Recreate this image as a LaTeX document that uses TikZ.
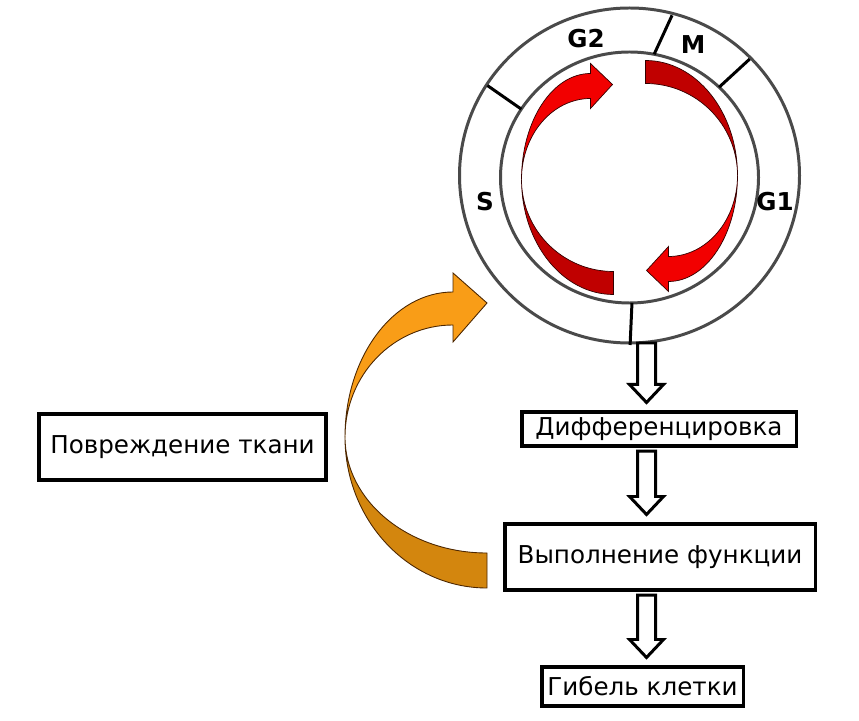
\documentclass[tikz,border=0pt]{standalone}
\usepackage{fontspec}
\setmainfont{DejaVu Sans}
\usetikzlibrary{calc}

\definecolor{ringgray}{HTML}{4A4A4A}
\definecolor{redlight}{HTML}{F20000}
\definecolor{reddark}{HTML}{C00000}
\definecolor{orangelight}{HTML}{F99D17}
\definecolor{orangedark}{HTML}{D3860E}

% hollow block arrow going down along the axis
\newcommand{\blockarrow}[2]{%
	\path (axis |- #1) ++(0,-0.06) coordinate (ba1);
	\path (axis |- #2) ++(0,0.15) coordinate (ba2);
	\draw[hollow] ($(ba1)+(-0.18,0)$) -- ($(ba2)+(-0.18,0.36)$) -- ($(ba2)+(-0.34,0.36)$)
		-- (ba2) -- ($(ba2)+(0.34,0.36)$) -- ($(ba2)+(0.18,0.36)$) -- ($(ba1)+(0.18,0)$) -- cycle;
}

% one curved red arrow of the cycle, around the origin
\newcommand{\cyclearrow}{%
	\draw[redline, fill=redlight] (-2.16,-0.04) arc (180:90:1.38 and 2.12) -- (-0.78,2.28) -- (-0.34,1.86)
		-- (-0.78,1.38) -- (-0.78,1.58) arc (90:180:1.38 and 1.62) -- cycle;
	\draw[redline, fill=reddark] (-2.16,-0.04) arc (180:270:1.84 and 2.30) -- (-0.32,-1.88)
		arc (270:180:1.84 and 1.84) -- cycle;
}

\begin{document}
\begin{tikzpicture}[
		box/.style={draw, line width=2pt, inner sep=2pt, font=\fontsize{14}{16}\selectfont},
		phase/.style={font=\fontsize{14}{16}\selectfont\bfseries},
		ring/.style={draw=ringgray, line width=1.7pt},
		divider/.style={line width=1.7pt},
		hollow/.style={draw, line width=1.7pt, fill=white},
		redline/.style={draw=black!80!red, line width=0.4pt},
		orangeline/.style={draw=black!70!orange, line width=0.5pt}
	]
	\useasboundingbox (0,0) rectangle (17.18,14.4);
	\coordinate (C) at (12.59,10.85);
	\coordinate (axis) at (12.93,0);
	\coordinate (ringbot) at (12.93,7.60);
	
	% -- Cell cycle ring --
	\draw[ring] ($(C)+(0,0.04)$) ellipse (3.40 and 3.35);
	\draw[ring] (C) ellipse (2.58 and 2.51);
	\foreach \a/\b in {79/75.5, 46/45, 147/146.7, -88.9/-89.8} {
		\draw[divider] ($(C)+(\a:2.58 and 2.51)$) -- ($(C)+(\b:3.40 and 3.35)$);
	}
	\node[phase] (g2) at (11.72,13.62) {G2};
	\node[phase] (m) at (13.86,13.50) {M};
	\node[phase] (s) at (9.70,10.36) {S};
	\node[phase] (g1) at (15.50,10.36) {G1};
	
	% -- Red cycle arrows --
	\begin{scope}[shift={(C)}]
		\cyclearrow
	\end{scope}
	\begin{scope}[shift={(C)}, rotate=180]
		\cyclearrow
	\end{scope}
	
	% -- Boxes --
	\node[box, minimum width=5.75cm, minimum height=1.33cm] (damage) at (3.65,5.46) {Повреждение ткани};
	\node[box, minimum width=5.49cm, minimum height=0.69cm] (dif) at (13.18,5.82) {Дифференцировка};
	\node[box, minimum width=6.21cm, minimum height=1.33cm] (func) at (13.20,3.26) {Выполнение функции};
	\node[box, minimum width=4.03cm, minimum height=0.79cm] (death) at (12.85,0.67) {Гибель клетки};
	
	% -- Hollow arrows --
	\blockarrow{ringbot}{dif.north}
	\blockarrow{dif.south}{func.north}
	\blockarrow{func.south}{death.north}
	
	% -- Orange return arrow --
	\draw[orangeline, fill=orangedark] (6.90,5.66) arc (180:270:2.84 and 3.02) -- (9.74,3.34)
		arc (270:180:2.84 and 2.32) -- cycle;
	\draw[orangeline, fill=orangelight] (6.90,5.66) arc (180:90:2.16 and 2.90) -- (9.06,8.94) -- (9.74,8.34)
		-- (9.06,7.56) -- (9.06,7.90) arc (90:180:2.16 and 2.24) -- cycle;
\end{tikzpicture}
\end{document}
